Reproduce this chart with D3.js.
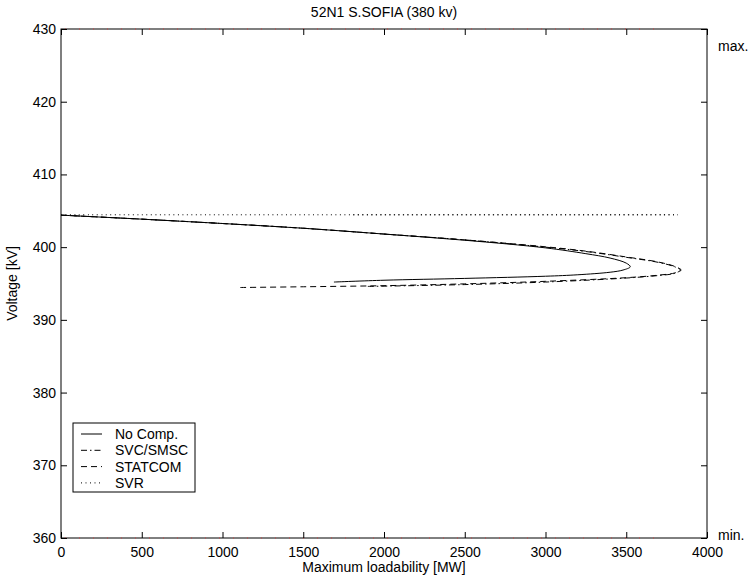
<!DOCTYPE html>
<html>
<head>
<meta charset="utf-8">
<script src="https://cdn.jsdelivr.net/npm/d3@7"></script>
<style>
  body { margin: 0; background: #fff; }
  text { font-family: "Liberation Sans", Arial, sans-serif; }
</style>
</head>
<body>
<div id="graph"></div>
<script>
// PV nose curves, 52N1 S.SOFIA
const noComp = [
  [1690, 395.2], [2000, 395.45], [2500, 395.7], [3000, 396.0], [3200, 396.2],
  [3400, 396.55], [3480, 396.85], [3525, 397.3], [3500, 397.8], [3400, 398.5],
  [3250, 399.1], [3000, 399.9], [2500, 400.95], [2000, 401.8], [1500, 402.6],
  [1000, 403.25], [500, 403.85], [0, 404.4]
];
const svcSmsc = [
  [1900, 394.6], [2500, 394.85], [3000, 395.2], [3500, 395.75], [3700, 396.1],
  [3800, 396.4], [3835, 396.85], [3800, 397.3], [3700, 397.9], [3500, 398.6],
  [3250, 399.4], [3000, 400.0], [2500, 401.0], [2000, 401.8], [1500, 402.6],
  [1000, 403.25], [500, 403.85], [0, 404.4]
];
const statcom = [
  [1110, 394.45], [1500, 394.55], [2000, 394.7], [2500, 394.95], [3000, 395.3],
  [3500, 395.8], [3700, 396.15], [3800, 396.45], [3840, 396.85], [3800, 397.35],
  [3700, 397.95], [3500, 398.65], [3250, 399.45], [3000, 400.05], [2500, 401.0],
  [2000, 401.8], [1500, 402.6], [1000, 403.25], [500, 403.85], [0, 404.4]
];
const svr = [
  [0, 404.45], [3820, 404.45], [1800, 404.45]
];

const seriesNames = ["No Comp.", "SVC/SMSC", "STATCOM", "SVR"];
const seriesData = [noComp, svcSmsc, statcom, svr];
const dashes = [null, "6,3,1.5,3", "6,4", "1,3.5"];

const xTicks = [0, 500, 1000, 1500, 2000, 2500, 3000, 3500, 4000];
const yTicks = [360, 370, 380, 390, 400, 410, 420, 430];
const limits = [{label: "max.", v: 427.6, line: 430}, {label: "min.", v: 360.4, line: 360}];

const w = 750, h = 580;
const pLeft = 61, pRight = 707, pTop = 29, pBottom = 538;
const fs = "14px";

const svg = d3.select("#graph").append("svg")
    .attr("width", w)
    .attr("height", h);

const x = d3.scaleLinear().domain([0, 4000]).range([pLeft, pRight]);
const y = d3.scaleLinear().domain([360, 430]).range([pBottom, pTop]);

// frame
svg.append("rect")
    .attr("x", pLeft).attr("y", pTop)
    .attr("width", pRight - pLeft).attr("height", pBottom - pTop)
    .style("fill", "none")
    .style("stroke", "#000")
    .style("stroke-width", 1);

// red dotted max/min lines sitting on the frame
svg.selectAll("line.limit")
    .data(limits)
    .enter()
    .append("line")
    .attr("x1", pLeft + 4).attr("x2", pRight - 40)
    .attr("y1", d => y(d.line)).attr("y2", d => y(d.line))
    .style("stroke", "#c44")
    .style("stroke-width", 1)
    .style("stroke-dasharray", "1,13");

function styleAxis(g) {
  g.select(".domain").remove();
  g.selectAll("line").style("stroke", "#000");
  g.selectAll("text")
    .style("font-family", "Liberation Sans, Arial, sans-serif")
    .style("font-size", fs)
    .style("fill", "#000");
}

svg.append("g")
    .attr("transform", `translate(0,${pBottom})`)
    .call(d3.axisBottom(x).tickValues(xTicks).tickSize(-6).tickPadding(9).tickFormat(d3.format("d")))
    .call(styleAxis);
svg.append("g")
    .attr("transform", `translate(0,${pTop})`)
    .call(d3.axisTop(x).tickValues(xTicks).tickSize(-6).tickFormat(""))
    .call(styleAxis);
svg.append("g")
    .attr("transform", `translate(${pLeft},0)`)
    .call(d3.axisLeft(y).tickValues(yTicks).tickSize(-6).tickPadding(5).tickFormat(d3.format("d")))
    .call(styleAxis);
svg.append("g")
    .attr("transform", `translate(${pRight},0)`)
    .call(d3.axisRight(y).tickValues(yTicks).tickSize(-6).tickFormat(""))
    .call(styleAxis);

// right-hand max./min. labels
svg.selectAll("text.lim")
    .data(limits)
    .enter()
    .append("text")
    .attr("x", pRight + 11)
    .attr("y", d => y(d.v))
    .attr("dy", "0.35em")
    .style("font-size", fs)
    .text(d => d.label);

// curves
const line = d3.line()
    .x(d => x(d[0]))
    .y(d => y(d[1]))
    .curve(d3.curveCatmullRom.alpha(0.5));

svg.selectAll("path.curve")
    .data(seriesData)
    .enter()
    .append("path")
    .attr("d", line)
    .style("fill", "none")
    .style("stroke", "#000")
    .style("stroke-width", 1)
    .style("stroke-dasharray", (d, i) => dashes[i]);

// title & labels
svg.append("text")
    .attr("x", (pLeft + pRight) / 2).attr("y", 17)
    .attr("text-anchor", "middle")
    .style("font-size", fs)
    .text("52N1 S.SOFIA (380 kv)");

svg.append("text")
    .attr("x", (pLeft + pRight) / 2).attr("y", 572)
    .attr("text-anchor", "middle")
    .style("font-size", fs)
    .text("Maximum loadability [MW]");

svg.append("text")
    .attr("transform", `translate(17,${(pTop + pBottom) / 2}) rotate(-90)`)
    .attr("text-anchor", "middle")
    .style("font-size", fs)
    .text("Voltage [kV]");

// legend
const lg = svg.append("g").attr("transform", "translate(73,423)");
lg.append("rect")
    .attr("width", 122).attr("height", 69)
    .style("fill", "#fff")
    .style("stroke", "#000")
    .style("stroke-width", 1);

const rows = lg.selectAll("g.row")
    .data(seriesNames)
    .enter()
    .append("g")
    .attr("transform", (d, i) => `translate(0,${11 + i * 16.3})`);

rows.append("line")
    .attr("x1", 8).attr("x2", 29)
    .style("stroke", "#000")
    .style("stroke-width", 1)
    .style("stroke-dasharray", (d, i) => dashes[i]);

rows.append("text")
    .attr("x", 42)
    .attr("dy", "0.35em")
    .style("font-size", fs)
    .text(d => d);
</script>
</body>
</html>
